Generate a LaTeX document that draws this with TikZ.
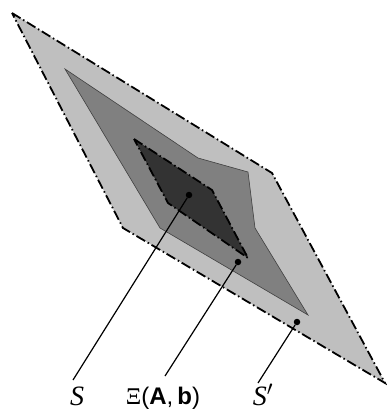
\documentclass[tikz,border=0pt]{standalone}
\usepackage{fontspec}
\setmainfont{Liberation Serif}
\newfontfamily\labsans{Liberation Sans}

\tikzset{
  regionline/.style={line width=1.8pt, dash pattern=on 10pt off 3pt on 1.5pt off 3pt},
  pindot/.style={circle, fill, inner sep=0pt, minimum size=6.5pt},
  leader/.style={line width=1.2pt},
  setlabel/.style={anchor=base, inner sep=0pt, font=\fontsize{28}{30}\selectfont},
}

\begin{document}
\begin{tikzpicture}[x=1pt,y=-1pt]
\useasboundingbox (0,0) rectangle (387,412);
% outer region S'
\filldraw[fill=black!25, regionline] (12,13) -- (272,173) -- (385,383) -- (123,228) -- cycle;
% middle region
\filldraw[fill=black!50, draw=black!75, line width=0.6pt]
  (65,69) -- (198,158) -- (248,172) -- (255,228) -- (308,315) -- (160,228) -- cycle;
% inner region S
\filldraw[fill=black!80, regionline] (134,139) -- (212,190) -- (248,258) -- (168,203) -- cycle;

\node[pindot] (dotS) at (189,195) {};
\node[pindot] (dotXi) at (238,262) {};
\node[pindot] (dotSp) at (297,322) {};

\coordinate (endS) at (73,380);
\coordinate (endXi) at (165,376);
\coordinate (endSp) at (258,383);

\node[setlabel] (labS) at (77,405) {\textit{S}};
\node[setlabel, font=\fontsize{24}{26}\selectfont] (labXi) at (163,404) {Ξ{\labsans(\textbf{A},\,\textbf{b})}};
\node[setlabel] (labSp) at (263,405) {\textit{S}$'$};

\draw[leader] (dotS) -- (endS);
\draw[leader] (dotXi) -- (endXi);
\draw[leader] (dotSp) -- (endSp);
\end{tikzpicture}
\end{document}
